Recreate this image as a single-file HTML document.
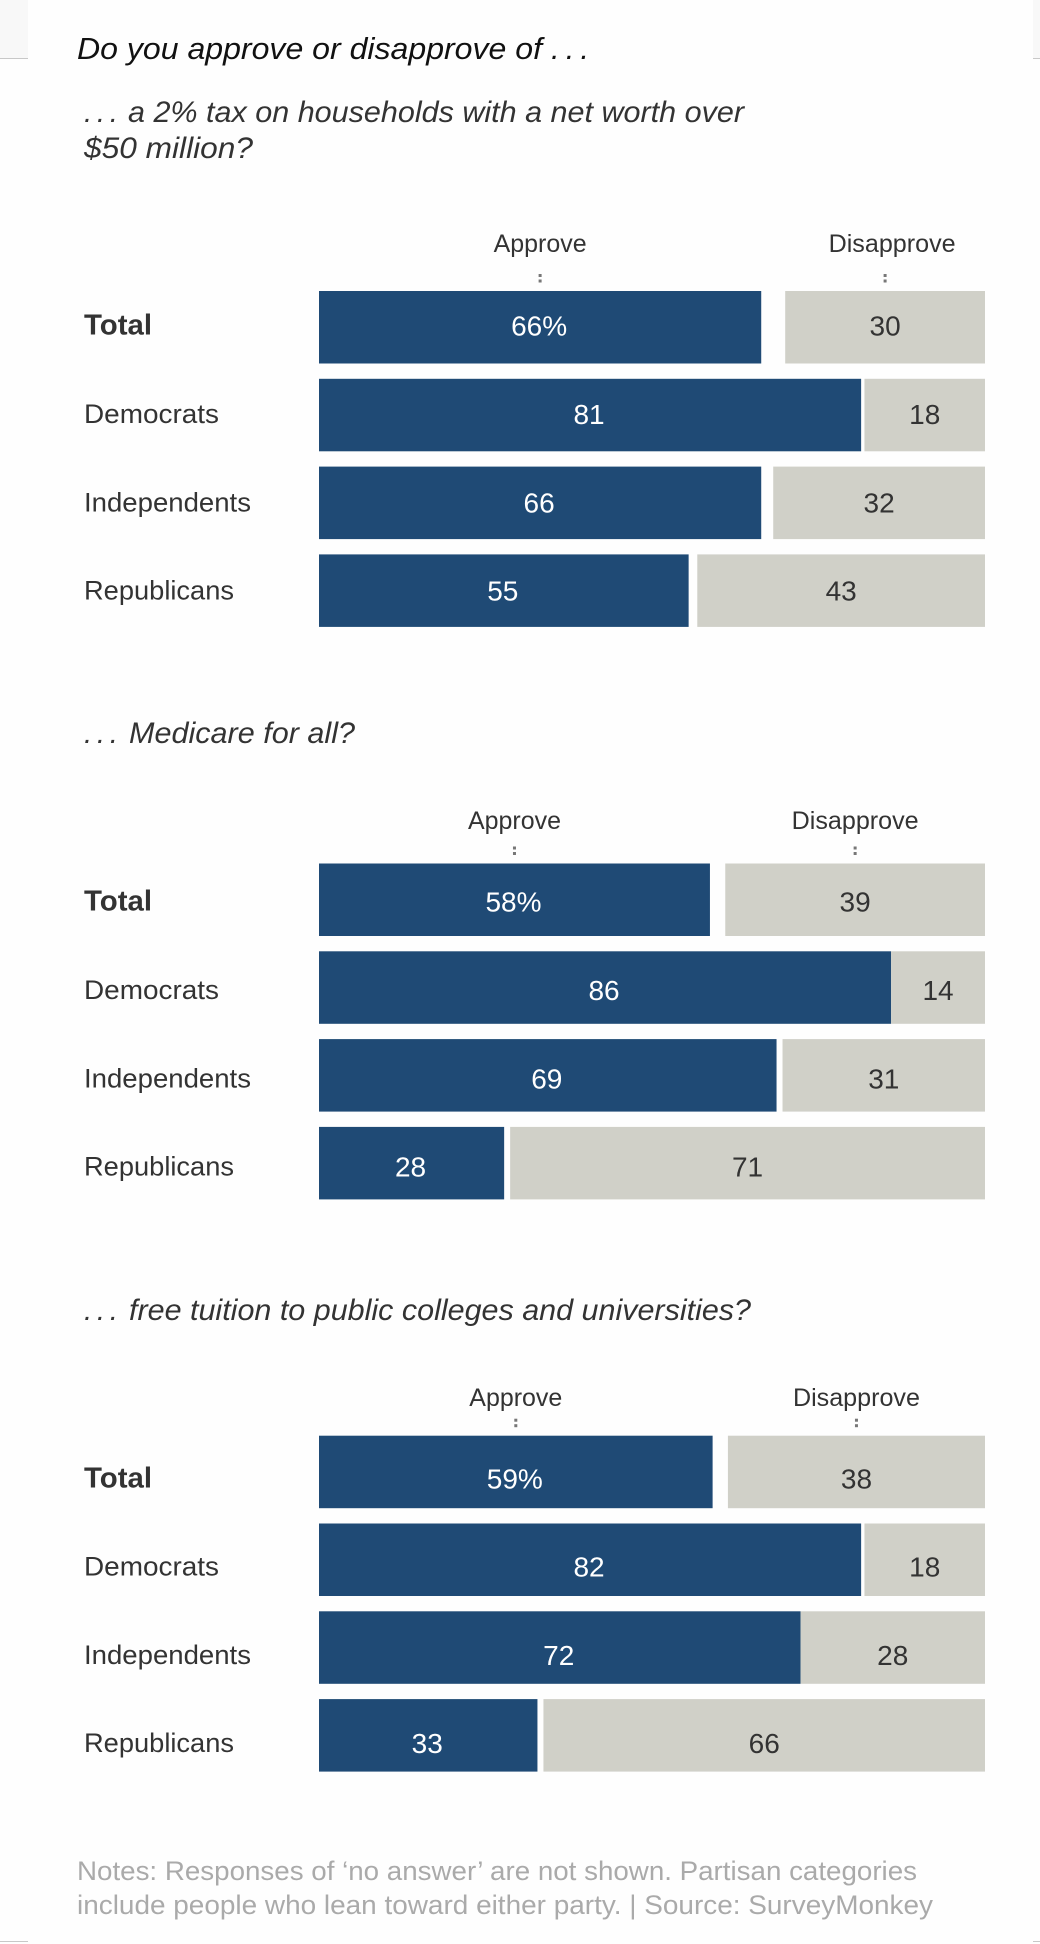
<!DOCTYPE html>
<html lang="en">
<head>
<meta charset="utf-8">
<title>Do you approve or disapprove of...</title>
<style>
html,body{margin:0;padding:0;background:#fefefe;width:1040px;height:1944px;overflow:hidden}
svg{display:block;font-family:"Liberation Sans",sans-serif}
</style>
</head>
<body>
<svg id="chart" width="1040" height="1944" viewBox="0 0 1040 1944" xmlns="http://www.w3.org/2000/svg">
  <rect x="0" y="0" width="1040" height="1944" fill="#fefefe"/>
  <rect x="0" y="0" width="28" height="58" fill="#f8f8f8"/>
  <rect x="1033" y="0" width="7" height="58" fill="#f8f8f8"/>
  <rect x="0" y="58" width="28" height="1" fill="#c8c8c8"/>
  <rect x="1033" y="58" width="7" height="1" fill="#c8c8c8"/>
  <rect x="0" y="1941" width="28" height="1" fill="#c8c8c8"/>
  <rect x="1033" y="1941" width="7" height="1" fill="#c8c8c8"/>

  <text y="59" font-size="31" font-style="italic" fill="#111"><tspan x="77" textLength="465" lengthAdjust="spacingAndGlyphs">Do you approve or disapprove of</tspan><tspan x="551" textLength="38">. . .</tspan></text>
  <text y="122" font-size="29.5" font-style="italic" fill="#333"><tspan x="84" textLength="34">. . .</tspan><tspan x="128" textLength="616" lengthAdjust="spacingAndGlyphs">a 2% tax on households with a net worth over</tspan></text>
  <text x="84" y="158" font-size="29.5" font-style="italic" fill="#333" textLength="169" lengthAdjust="spacingAndGlyphs">$50 million?</text>
  <text y="743" font-size="29.5" font-style="italic" fill="#333"><tspan x="84" textLength="34">. . .</tspan><tspan x="129" textLength="226" lengthAdjust="spacingAndGlyphs">Medicare for all?</tspan></text>
  <text y="1320" font-size="29.5" font-style="italic" fill="#333"><tspan x="84" textLength="34">. . .</tspan><tspan x="129" textLength="622" lengthAdjust="spacingAndGlyphs">free tuition to public colleges and universities?</tspan></text>

  <g id="plots"></g>

  <text x="77" y="1880" font-size="27" fill="#aaa" textLength="840" lengthAdjust="spacingAndGlyphs">Notes: Responses of ‘no answer’ are not shown. Partisan categories</text>
  <text x="77" y="1914" font-size="27" fill="#aaa" textLength="856" lengthAdjust="spacingAndGlyphs">include people who lean toward either party. | Source: SurveyMonkey</text>
</svg>
<script>
const categories = ['Total', 'Democrats', 'Independents', 'Republicans'];
const seriesNames = ['Approve', 'Disapprove'];
const questionNames = ['tax', 'medicare', 'tuition'];

// Bar lengths in percent (unrounded survey shares).
const approveTax = [66.4, 81.4, 66.4, 55.5];
const disapproveTax = [30.0, 18.1, 31.8, 43.2];
const approveMedicare = [58.7, 85.9, 68.7, 27.8];
const disapproveMedicare = [39.0, 14.1, 30.4, 71.3];
const approveTuition = [59.1, 81.4, 72.3, 32.8];
const disapproveTuition = [38.6, 18.1, 27.7, 66.3];

// Printed values as shown in the bars.
const approveTaxLabels = ['66%', '81', '66', '55'];
const disapproveTaxLabels = ['30', '18', '32', '43'];
const approveMedicareLabels = ['58%', '86', '69', '28'];
const disapproveMedicareLabels = ['39', '14', '31', '71'];
const approveTuitionLabels = ['59%', '82', '72', '33'];
const disapproveTuitionLabels = ['38', '18', '28', '66'];

const approveSets = [approveTax, approveMedicare, approveTuition];
const disapproveSets = [disapproveTax, disapproveMedicare, disapproveTuition];
const approveLabelSets = [approveTaxLabels, approveMedicareLabels, approveTuitionLabels];
const disapproveLabelSets = [disapproveTaxLabels, disapproveMedicareLabels, disapproveTuitionLabels];

const SVG_NS = 'http://www.w3.org/2000/svg';
const plots = document.getElementById('plots');
const plotLeft = 319;
const plotRight = 985;
const plotTops = [291, 863.5, 1435.7];
const headerBaselines = [252, 829, 1406];
const valueBaselines = [335.7, 911.7, 1488.3];
const disapproveHeaderShift = [7, 0, 0];
const rowPitch = 87.8;
const textPitch = 88.3;
const barHeight = 72.5;

function xScale(pct) {
  return (plotRight - plotLeft) * pct / 100;
}
function yBand(groupIndex, rowIndex) {
  return plotTops[groupIndex] + rowPitch * rowIndex;
}
function yText(groupIndex, rowIndex) {
  return valueBaselines[groupIndex] + textPitch * rowIndex;
}
function makeRect(parent, x, y, w, h, fill) {
  const el = document.createElementNS(SVG_NS, 'rect');
  el.setAttribute('x', x);
  el.setAttribute('y', y);
  el.setAttribute('width', w);
  el.setAttribute('height', h);
  el.setAttribute('fill', fill);
  parent.appendChild(el);
  return el;
}
function makeText(parent, x, y, str, size, fill, anchor, weight) {
  const el = document.createElementNS(SVG_NS, 'text');
  el.setAttribute('x', x);
  el.setAttribute('y', y);
  el.setAttribute('font-size', size);
  el.setAttribute('fill', fill);
  el.setAttribute('text-anchor', anchor);
  el.setAttribute('font-weight', weight);
  el.textContent = str;
  parent.appendChild(el);
  return el;
}

questionNames.forEach(function (question, g) {
  const group = document.createElementNS(SVG_NS, 'g');
  
  
  plots.appendChild(group);

  const firstApprove = xScale(approveSets[g][0]);
  const firstDisapprove = xScale(disapproveSets[g][0]);
  const approveCenter = plotLeft + firstApprove / 2;
  const disapproveCenter = plotRight - firstDisapprove / 2;

  const approveHeader = makeText(group, approveCenter, headerBaselines[g], seriesNames[0], 25, '#333', 'middle', 'normal');
  
  
  approveHeader.setAttribute('textLength', 93);
  approveHeader.setAttribute('lengthAdjust', 'spacingAndGlyphs');

  const disapproveHeader = makeText(group, disapproveCenter + disapproveHeaderShift[g], headerBaselines[g], seriesNames[1], 25, '#333', 'middle', 'normal');
  
  
  disapproveHeader.setAttribute('textLength', 127);
  disapproveHeader.setAttribute('lengthAdjust', 'spacingAndGlyphs');

  [approveCenter, disapproveCenter].forEach(function (cx) {
    [-17, -11.5].forEach(function (dy) {
      const dot = makeRect(group, cx - 1.5, plotTops[g] + dy, 3, 3, '#777');
      
      
    });
  });

  categories.forEach(function (category, r) {
    const y = yBand(g, r);
    const baseline = yText(g, r);
    const approveW = xScale(approveSets[g][r]);
    const disapproveW = xScale(disapproveSets[g][r]);

    const label = makeText(group, 84, baseline - 1, category, r === 0 ? 29 : 27, '#333', 'start', r === 0 ? 'bold' : 'normal');
    
    
    label.setAttribute('textLength', { Total: 68, Democrats: 135, Independents: 167, Republicans: 150 }[category]);
    label.setAttribute('lengthAdjust', 'spacingAndGlyphs');

    const approveBar = makeRect(group, plotLeft, y, approveW, barHeight, '#1f4a75');
    
    

    const disapproveBar = makeRect(group, plotRight - disapproveW, y, disapproveW, barHeight, '#d0d0c8');
    
    

    const approveValue = makeText(group, plotLeft + approveW / 2 - 1, baseline, approveLabelSets[g][r], 28, '#fff', 'middle', 'normal');
    
    

    const disapproveValue = makeText(group, plotRight - disapproveW / 2, baseline, disapproveLabelSets[g][r], 28, '#333', 'middle', 'normal');
    
    
  });
});
</script>
</body>
</html>
